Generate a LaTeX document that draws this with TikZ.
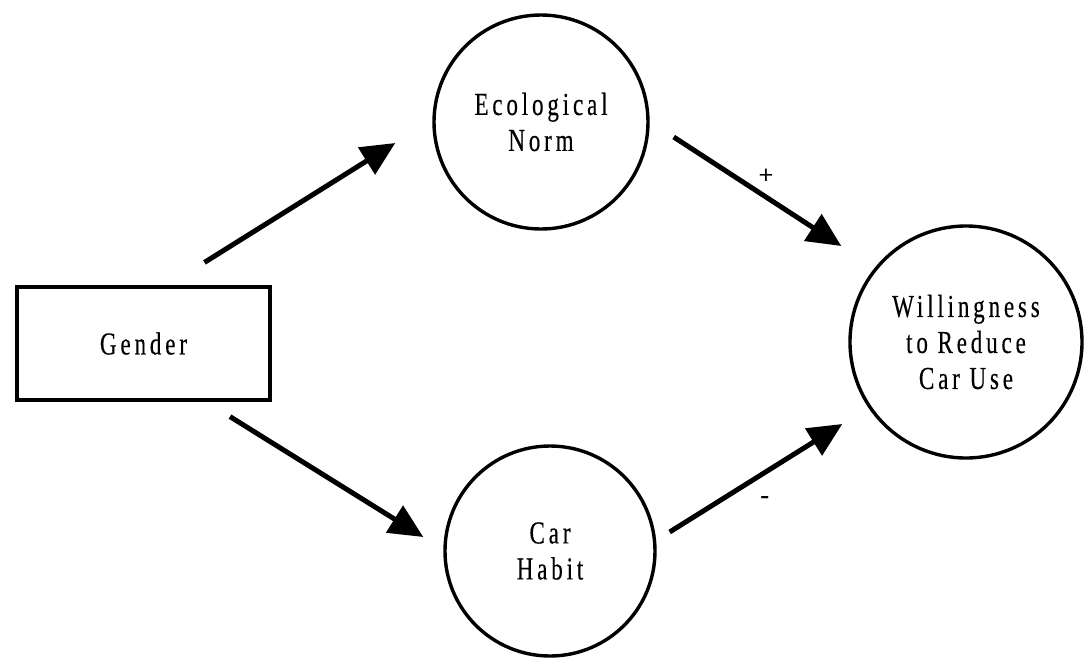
\documentclass[tikz,border=0pt]{standalone}
\usepackage{fontspec}
\setmainfont{Liberation Serif}
\newfontfamily\labfont[LetterSpace=12,FakeStretch=0.72,FakeBold=0.3]{Liberation Serif}
\newfontfamily\signfont[FakeBold=0.6]{Liberation Serif}
\usetikzlibrary{arrows.meta,calc}
\begin{document}
\begin{tikzpicture}[x=1pt,y=-1pt,
  lab/.style={font=\labfont\fontsize{32}{36}\selectfont, align=center},
  var/.style={circle, draw, line width=3.4pt, inner sep=0pt, lab},
  box/.style={rectangle, draw, line width=3.2pt, inner sep=0pt, lab},
  arr/.style={line width=5pt, -{Triangle[length=34pt,width=31pt]}},
  sign/.style={font=\signfont\fontsize{26}{26}\selectfont, inner sep=0pt}]
  \useasboundingbox[fill=white] (0,0) rectangle (1088,657);

  % variables
  \node[box, minimum width=253pt, minimum height=113pt] (gender) at (143.5,343.5) {Gender};
  \node[var, minimum size=214pt] (eco) at (541,122) {Ecological\\Norm};
  \node[var, minimum size=210pt] (car) at (550,551) {Car\\Habit};
  \node[var, minimum size=232pt] (will) at (966,342) {Willingness\\to Reduce\\Car Use};

  % paths
  \draw[arr] ($(gender.north)+(61,-23)$) -- ($(eco.west)+(-37,21)$);
  \draw[arr] ($(gender.south)+(86.5,15)$) -- ($(car.west)+(-20,-14)$);
  \draw[arr] ($(eco.east)+(24,15)$) -- ($(will.west)+(-7,-96)$) node[pos=0.55, sign, above=11pt] (plus) {+};
  \draw[arr] ($(car.east)+(13,-19)$) -- ($(will.west)+(-6,82)$) node[pos=0.55, sign, below=21pt] (minus) {-};
\end{tikzpicture}
\end{document}
